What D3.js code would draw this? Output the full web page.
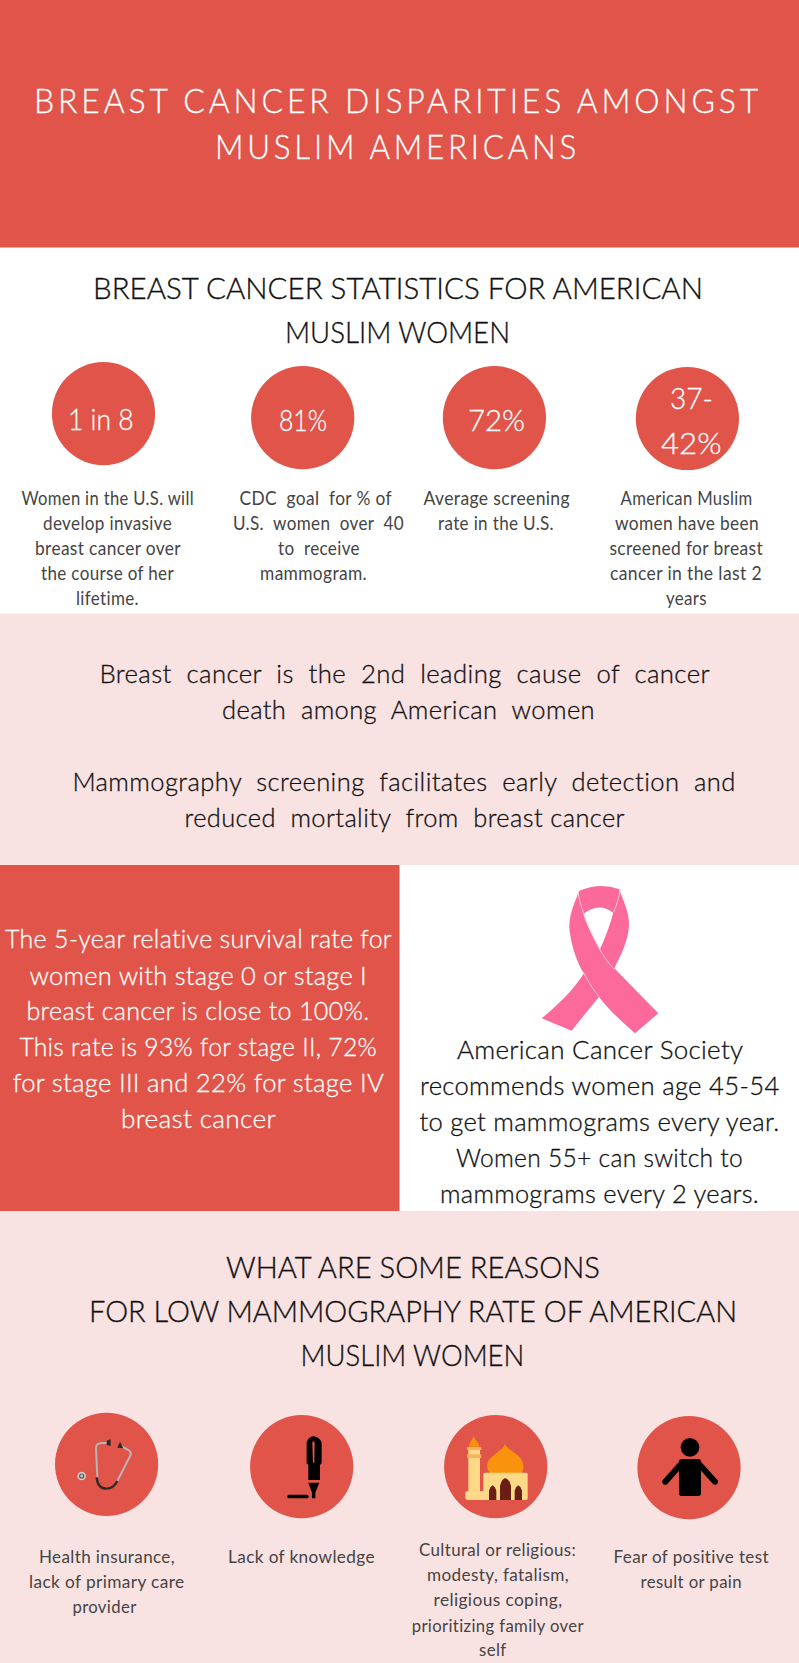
<!DOCTYPE html>
<html>
<head>
<meta charset="utf-8">
<script src="https://cdn.jsdelivr.net/npm/d3@7"></script>
<style>
  html, body { margin: 0; padding: 0; background: #fff; }
  svg { display: block; }
  text { font-family: Lato, "Open Sans", sans-serif; white-space: pre; }
</style>
</head>
<body>
<div id="chart"></div>
<script>
const RED = "#e15449", PINK = "#f9e2e2", INK = "#111", SMALL_INK = "#444";

// text of every block, line by line
const titleLines = ["BREAST CANCER DISPARITIES AMONGST", "MUSLIM AMERICANS"];
const statsHeading = ["BREAST CANCER STATISTICS FOR AMERICAN", "MUSLIM WOMEN"];
const statLabels = ["1 in 8", "81%", "72%", "37-", "42%"];
const statText1 = ["Women in the U.S. will", "develop invasive", "breast cancer over", "the course of her", "lifetime."];
const statText2 = ["CDC  goal  for % of", "U.S.  women  over  40", "to  receive", "mammogram."];
const statText3 = ["Average screening", "rate in the U.S."];
const statText4 = ["American Muslim", "women have been", "screened for breast", "cancer in the last 2", "years"];
const factLines = [
  "Breast  cancer  is  the  2nd  leading  cause  of  cancer",
  "death  among  American  women",
  "Mammography  screening  facilitates  early  detection  and",
  "reduced  mortality  from  breast cancer"
];
const survivalLines = [
  "The 5-year relative survival rate for",
  "women with stage 0 or stage I",
  "breast cancer is close to 100%.",
  "This rate is 93% for stage II, 72%",
  "for stage III and 22% for stage IV",
  "breast cancer"
];
const acsLines = [
  "American Cancer Society",
  "recommends women age 45-54",
  "to get mammograms every year.",
  "Women 55+ can switch to",
  "mammograms every 2 years."
];
const reasonsHeading = ["WHAT ARE SOME REASONS", "FOR LOW MAMMOGRAPHY RATE OF AMERICAN", "MUSLIM WOMEN"];
const reasonText1 = ["Health insurance,", "lack of primary care", "provider"];
const reasonText2 = ["Lack of knowledge"];
const reasonText3 = ["Cultural or religious:", "modesty, fatalism,", "religious coping,", "prioritizing family over", "self"];
const reasonText4 = ["Fear of positive test", "result or pain"];

// where those lines sit: [left, right, baseline]
const titleSpans = [[34, 762, 112.7], [215, 580, 159.4]];
const statsHeadingSpans = [[93, 703, 299.3], [285, 510, 343.2]];
const statLabelSpans = [[68, 133.5, 430], [279, 327, 431], [468, 525, 431], [670, 713, 408.5], [661, 721.5, 453.5]];
const statSpans1 = [[21.4, 194, 505.3], [43, 172, 530.3], [35, 181, 555.3], [41, 174, 580.3], [76, 139, 605.3]];
const statSpans2 = [[239.5, 392, 505.3], [233, 404, 530.3], [278, 360, 555.3], [260, 367, 580.3]];
const statSpans3 = [[423.5, 570, 505.3], [438, 554, 530.3]];
const statSpans4 = [[620.6, 752.6, 505.3], [615, 759, 530.3], [609.4, 763, 555.3], [610, 762, 580.3], [666, 707, 605.3]];
const factSpans = [[99.4, 710, 682.8], [222, 595, 718.7], [72.4, 735.8, 790.7], [184.5, 625, 826.7]];
const survivalSpans = [[5, 392, 948], [29.5, 367, 984.5], [26.5, 369.4, 1020], [19.4, 377, 1056], [12.7, 384, 1092.4], [121, 276, 1128.4]];
const acsSpans = [[457, 743.4, 1059.2], [420, 779.6, 1095], [419.4, 779.6, 1131], [456, 743, 1166.6], [440, 759, 1202.6]];
const reasonsHeadingSpans = [[226, 600, 1277.8], [89, 737, 1322], [300.6, 524.3, 1366]];
const reasonSpans1 = [[39, 175, 1563], [29, 184.5, 1588], [72.4, 136.6, 1613]];
const reasonSpans2 = [[228, 375, 1563]];
const reasonSpans3 = [[419, 576, 1556], [427, 569, 1581.3], [433.6, 562.5, 1606.4], [411.7, 584, 1631.5], [479, 506.5, 1656.3]];
const reasonSpans4 = [[613.5, 769, 1563], [640.5, 742, 1588]];

// background panels: [x, y, w, h, fill]
const panels = [
  [0, 0, 799, 247.5, RED],
  [0, 613.5, 799, 251.5, PINK],
  [0, 865, 399.5, 346, RED],
  [0, 1211, 799, 452, PINK]
];
// round badges: [cx, cy]
const statCircles = [[103.5, 413.6], [302.7, 417.7], [494.4, 417.7], [687.4, 418.5]];
const reasonCircles = [[106.6, 1464.3], [301.7, 1466.7], [495.7, 1466.7], [689, 1467.7]];

const svg = d3.select("#chart").append("svg")
  .attr("width", 799).attr("height", 1663)
  .attr("viewBox", [0, 0, 799, 1663]);

svg.append("g").selectAll("rect").data(panels).join("rect")
  .attr("x", d => d[0]).attr("y", d => d[1]).attr("width", d => d[2]).attr("height", d => d[3])
  .attr("fill", d => d[4]);

svg.append("g").selectAll("circle").data(statCircles.concat(reasonCircles)).join("circle")
  .attr("cx", d => d[0]).attr("cy", d => d[1]).attr("r", 51.6).attr("fill", RED);

function drawLines(lines, spans, size, fill, weight, tracking, thicken) {
  svg.append("g").attr("font-size", size).attr("fill", fill)
    .attr("font-weight", weight).attr("letter-spacing", tracking)
    .attr("stroke", fill).attr("stroke-width", thicken)
    .selectAll("text").data(lines).join("text")
    .attr("x", (d, i) => spans[i][0])
    .attr("y", (d, i) => spans[i][2])
    .attr("textLength", (d, i) => spans[i][1] - spans[i][0])
    .attr("lengthAdjust", "spacingAndGlyphs")
    .text(d => d);
}

drawLines(titleLines, titleSpans, 33, "#fff", 300, 4, 0.3);
drawLines(statsHeading, statsHeadingSpans, 30, INK, 300, 0, 0.35);
drawLines(statLabels, statLabelSpans, 30, "#fff", 300, 0, 0.3);
drawLines(statText1, statSpans1, 19, SMALL_INK, 400, 0.4, 0);
drawLines(statText2, statSpans2, 19, SMALL_INK, 400, 0.4, 0);
drawLines(statText3, statSpans3, 19, SMALL_INK, 400, 0.4, 0);
drawLines(statText4, statSpans4, 19, SMALL_INK, 400, 0.4, 0);
drawLines(factLines, factSpans, 25.5, INK, 300, 0.4, 0.3);
drawLines(survivalLines, survivalSpans, 25.5, "#fff", 300, 0.3, 0.3);
drawLines(acsLines, acsSpans, 25.5, INK, 300, 0.3, 0.3);
drawLines(reasonsHeading, reasonsHeadingSpans, 30, INK, 300, 0, 0.35);
drawLines(reasonText1, reasonSpans1, 18, SMALL_INK, 400, 0.4, 0);
drawLines(reasonText2, reasonSpans2, 18, SMALL_INK, 400, 0.4, 0);
drawLines(reasonText3, reasonSpans3, 18, SMALL_INK, 400, 0.4, 0);
drawLines(reasonText4, reasonSpans4, 18, SMALL_INK, 400, 0.4, 0);

// ribbon, drawn in 3x local units
const ribbon = svg.append("g").attr("transform", "translate(520,870) scale(0.3333)");
ribbon.append("path").attr("fill", "#fb6a9a").attr("fill-rule", "evenodd")
  .attr("d", "M178,62 Q240,36 298,58 C310,95 328,125 327,165 C325,215 300,260 283,295 L415,430 L345,490 C300,450 262,415 237,380 L155,482 L65,445 C120,400 160,360 192,310 C165,270 148,200 148,165 C150,125 165,95 178,62Z M190,132 Q235,95 280,128 C270,165 255,205 240,238 C220,205 200,165 190,132Z");
ribbon.append("path").attr("fill", "none").attr("stroke", "#fdd9dc").attr("stroke-width", 2.5)
  .attr("d", "M174,68 C185,130 215,190 240,240 C255,265 270,285 283,298 M300,60 C298,80 290,105 281,126 M192,310 C205,335 220,360 237,380");

// stethoscope and pen, 3x local units
const tools = svg.append("g").attr("transform", "translate(40,1400) scale(0.3333)");
tools.append("path").attr("fill", "none").attr("stroke", "#b9b5b3").attr("stroke-width", 6)
  .attr("d", "M205,128 L180,130 Q168,132 168,145 L172,232 M232,243 L272,165 Q275,155 262,148 L242,138");
tools.append("path").attr("fill", "none").attr("stroke", "#2b2b2b").attr("stroke-width", 7)
  .attr("d", "M170,232 C172,256 185,266 200,266 Q220,266 232,243");
tools.append("path").attr("fill", "#2b2b2b").attr("d", "M200,122 L212,118 L212,138 L200,135Z M232,143 L240,125 L250,145Z");
tools.append("circle").attr("cx", 125).attr("cy", 228).attr("r", 13).attr("fill", "#cfcac8");
tools.append("circle").attr("cx", 125).attr("cy", 228).attr("r", 6).attr("fill", "none").attr("stroke", "#555").attr("stroke-width", 3.5);
tools.append("path").attr("fill", "#000")
  .attr("d", "M800,128 Q804,112 820,108 Q840,112 845,128 L845,190 L840,195 L840,240 L805,240 L805,195 L800,190Z M805,248 L838,248 L826,278 L826,295 L816,295 L816,278Z");
tools.append("path").attr("fill", RED).attr("d", "M817,128 Q820,120 824,128 L823,188 L819,188Z");
tools.append("rect").attr("x", 742).attr("y", 284).attr("width", 64).attr("height", 11).attr("rx", 5).attr("fill", "#000");

// mosque and person, 3x local units
const mosque = svg.append("g").attr("transform", "translate(430,1400) scale(0.3333)");
mosque.append("path").attr("fill", "#f9930e")
  .attr("d", "M225,132 C222,150 180,165 172,190 C170,205 175,215 180,220 L275,220 C282,210 282,195 275,180 C265,160 232,150 225,132Z M130,108 C128,120 117,128 117,140 L148,140 C148,128 134,120 130,108Z");
mosque.append("rect").attr("x", 160).attr("y", 218).attr("width", 133).attr("height", 82).attr("rx", 5).attr("fill", "#ffd987");
mosque.append("rect").attr("x", 115).attr("y", 148).attr("width", 35).attr("height", 130).attr("fill", "#ffd987");
mosque.append("rect").attr("x", 106).attr("y", 273).attr("width", 70).attr("height", 27).attr("rx", 8).attr("fill", "#ffd987");
mosque.append("rect").attr("x", 111).attr("y", 141).attr("width", 43).attr("height", 9).attr("fill", "#f5b45a");
mosque.append("rect").attr("x", 111).attr("y", 163).attr("width", 43).attr("height", 11).attr("fill", "#f5b45a");
mosque.append("path").attr("fill", "#6b1f14")
  .attr("d", "M210,300 L210,258 Q214,238 226,234 Q239,238 243,258 L243,300Z M177,300 L177,272 Q180,260 188,256 Q196,260 199,272 L199,300Z M254,300 L254,272 Q257,260 265,256 Q273,260 276,272 L276,300Z");
const person = mosque.append("g");
person.append("circle").attr("cx", 780).attr("cy", 142).attr("r", 28).attr("fill", "#000");
person.append("rect").attr("x", 747).attr("y", 177).attr("width", 66).attr("height", 111).attr("rx", 8).attr("fill", "#000");
person.append("path").attr("fill", "none").attr("stroke", "#000").attr("stroke-width", 18).attr("stroke-linecap", "round")
  .attr("d", "M755,190 L706,245 M805,190 L855,245");
</script>
</body>
</html>
